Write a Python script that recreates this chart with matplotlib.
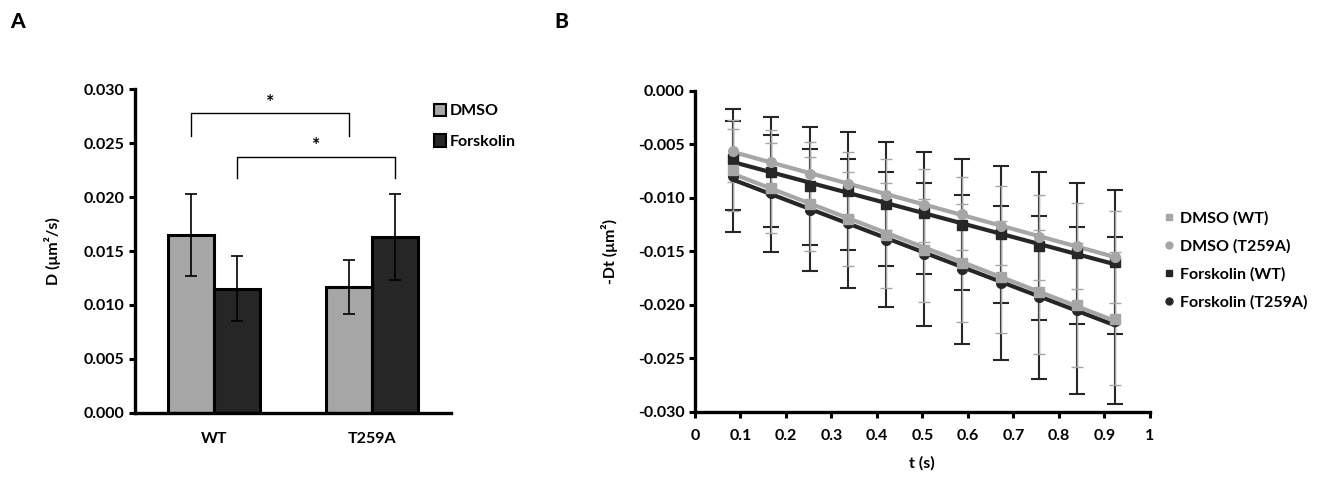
import numpy as np
import matplotlib
matplotlib.use("Agg")
import matplotlib.pyplot as plt
from matplotlib.patches import Patch
from matplotlib.lines import Line2D

plt.rcParams['font.family'] = ['Lato', 'DejaVu Sans']
plt.rcParams['font.weight'] = 'bold'
plt.rcParams['axes.labelweight'] = 'bold'
plt.rcParams['font.size'] = 11.5

LIGHT = "#a6a6a6"
DARK = "#262626"
FS = 11.5

# ---- panel A data
groups = ["WT", "T259A"]
d_dmso = [0.0165, 0.0117]
d_dmso_err = [0.0038, 0.0025]
d_forsk = [0.0115, 0.0163]
d_forsk_err = [0.0030, 0.0040]

# ---- panel B data (t in s, -Dt in um^2)
t = [0.084, 0.168, 0.252, 0.336, 0.420, 0.504, 0.588, 0.672, 0.756, 0.840, 0.924]
dmso_wt = [-0.0074, -0.0091, -0.0106, -0.0120, -0.0135, -0.0149, -0.0161, -0.0174, -0.0188, -0.0200, -0.0213]
dmso_wt_err = [0.0038, 0.0042, 0.0044, 0.0044, 0.0049, 0.0048, 0.0055, 0.0052, 0.0058, 0.0058, 0.0062]
dmso_t259a = [-0.0056, -0.0067, -0.0078, -0.0087, -0.0097, -0.0107, -0.0115, -0.0126, -0.0137, -0.0145, -0.0155]
dmso_t259a_err = [0.0029, 0.0030, 0.0030, 0.0030, 0.0033, 0.0034, 0.0034, 0.0037, 0.0040, 0.0040, 0.0043]
forsk_wt = [-0.0064, -0.0076, -0.0089, -0.0094, -0.0106, -0.0114, -0.0125, -0.0134, -0.0145, -0.0152, -0.0160]
forsk_wt_err = [0.0047, 0.0051, 0.0055, 0.0055, 0.0058, 0.0057, 0.0061, 0.0064, 0.0069, 0.0066, 0.0067]
forsk_t259a = [-0.0080, -0.0096, -0.0111, -0.0124, -0.0139, -0.0153, -0.0167, -0.0180, -0.0193, -0.0205, -0.0215]
forsk_t259a_err = [0.0052, 0.0055, 0.0057, 0.0060, 0.0063, 0.0067, 0.0070, 0.0072, 0.0076, 0.0078, 0.0078]

fig = plt.figure(figsize=(13.22, 4.8), dpi=100)

def style_axes(ax):
    for s in ["top", "right"]:
        ax.spines[s].set_visible(False)
    for s in ["left", "bottom"]:
        ax.spines[s].set_linewidth(2.4)
    ax.tick_params(width=2.2, length=4, color="black", labelsize=FS)

# ================= A
axA = fig.add_axes([0.1021, 0.140, 0.239, 0.674])
x = np.array([0.5, 1.5])
w = 0.29
axA.bar(x - w / 2, d_dmso, w, color=LIGHT, edgecolor="black", linewidth=2.2, zorder=2)
axA.bar(x + w / 2, d_forsk, w, color=DARK, edgecolor="black", linewidth=2.2, zorder=2)
axA.errorbar(x - w / 2, d_dmso, yerr=d_dmso_err, fmt="none", ecolor="black",
             elinewidth=1.2, capsize=4, capthick=1.2, zorder=3)
axA.errorbar(x + w / 2, d_forsk, yerr=d_forsk_err, fmt="none", ecolor="black",
             elinewidth=1.2, capsize=4, capthick=1.2, zorder=3)

# significance brackets
def bracket(ax, x1, x2, y_top, y_leg, y_star):
    ax.plot([x1, x1, x2, x2], [y_leg, y_top, y_top, y_leg], color="black", lw=1, clip_on=False)
    ax.text((x1 + x2) / 2, y_star, "*", ha="center", va="center", fontsize=14)

bracket(axA, x[0] - w / 2, x[1] - w / 2, 0.0278, 0.0257, 0.0288)
bracket(axA, x[0] + w / 2, x[1] + w / 2, 0.0237, 0.0218, 0.0248)

axA.set_xlim(0, 2)
axA.set_ylim(0, 0.030)
axA.set_yticks(np.arange(0, 0.0301, 0.005))
axA.set_yticklabels(["%.3f" % v for v in np.arange(0, 0.0301, 0.005)])
axA.set_xticks(x)
axA.set_xticklabels(groups)
style_axes(axA)
axA.tick_params(axis="x", length=0, pad=14)
axA.set_ylabel("D (μm²/s)", fontsize=FS, fontweight="bold", labelpad=16)
axA.legend(handles=[Patch(facecolor=LIGHT, edgecolor="black", linewidth=1.5, label="DMSO"),
                    Patch(facecolor=DARK, edgecolor="black", linewidth=1.5, label="Forskolin")],
           loc="upper left", bbox_to_anchor=(0.90, 1.0), frameon=False,
           handlelength=0.8, handleheight=0.8, handletextpad=0.2, labelspacing=1.0, fontsize=FS)

# ================= B
axB = fig.add_axes([0.5257, 0.142, 0.344, 0.669])
series = [
    (forsk_t259a, forsk_t259a_err, DARK, "o", "Forskolin (T259A)", 6, 1.5),
    (forsk_wt, forsk_wt_err, DARK, "s", "Forskolin (WT)", 6, 1.5),
    (dmso_wt, dmso_wt_err, LIGHT, "s", "DMSO (WT)", 4, 1.0),
    (dmso_t259a, dmso_t259a_err, LIGHT, "o", "DMSO (T259A)", 4, 1.0),
]
tt = np.array(t)
for yv, ye, col, mk, lab, cs, ew in series:
    axB.errorbar(t, yv, yerr=ye, fmt="none", ecolor=col, elinewidth=ew, capsize=cs,
                 capthick=ew, zorder=2)
for yv, ye, col, mk, lab, cs, ew in series:
    p = np.polyfit(tt, yv, 1)
    axB.plot(tt, np.polyval(p, tt), color=col, lw=3, zorder=3, solid_capstyle="round")
    axB.plot(t, yv, linestyle="none", marker=mk, color=col, markersize=7, zorder=4)

axB.set_xlim(0, 1)
axB.set_ylim(-0.030, 0)
axB.set_xticks(np.arange(0, 1.01, 0.1))
axB.set_xticklabels(["0"] + ["%.1f" % v for v in np.arange(0.1, 0.95, 0.1)] + ["1"])
yt = np.arange(-0.030, 0.0001, 0.005)
axB.set_yticks(yt)
axB.set_yticklabels(["%.3f" % v if abs(v) > 1e-9 else "0.000" for v in yt])
style_axes(axB)
axB.tick_params(axis="x", pad=8)
axB.set_xlabel("t (s)", fontsize=FS, fontweight="bold", labelpad=10)
axB.set_ylabel("-Dt (μm²)", fontsize=FS, fontweight="bold", labelpad=14)

handles = [
    Line2D([], [], linestyle="none", marker="s", color=LIGHT, markersize=5, label="DMSO (WT)"),
    Line2D([], [], linestyle="none", marker="o", color=LIGHT, markersize=5, label="DMSO (T259A)"),
    Line2D([], [], linestyle="none", marker="s", color=DARK, markersize=5, label="Forskolin (WT)"),
    Line2D([], [], linestyle="none", marker="o", color=DARK, markersize=5, label="Forskolin (T259A)"),
]
axB.legend(handles=handles, loc="upper left", bbox_to_anchor=(1.0, 0.67), frameon=False,
           handlelength=0.6, handletextpad=0.4, labelspacing=0.85, fontsize=FS)

fig.text(0.008, 0.955, "A", fontsize=15, fontweight="black", va="center")
fig.text(0.419, 0.955, "B", fontsize=15, fontweight="black", va="center")

fig.savefig("out.png", dpi=100)
